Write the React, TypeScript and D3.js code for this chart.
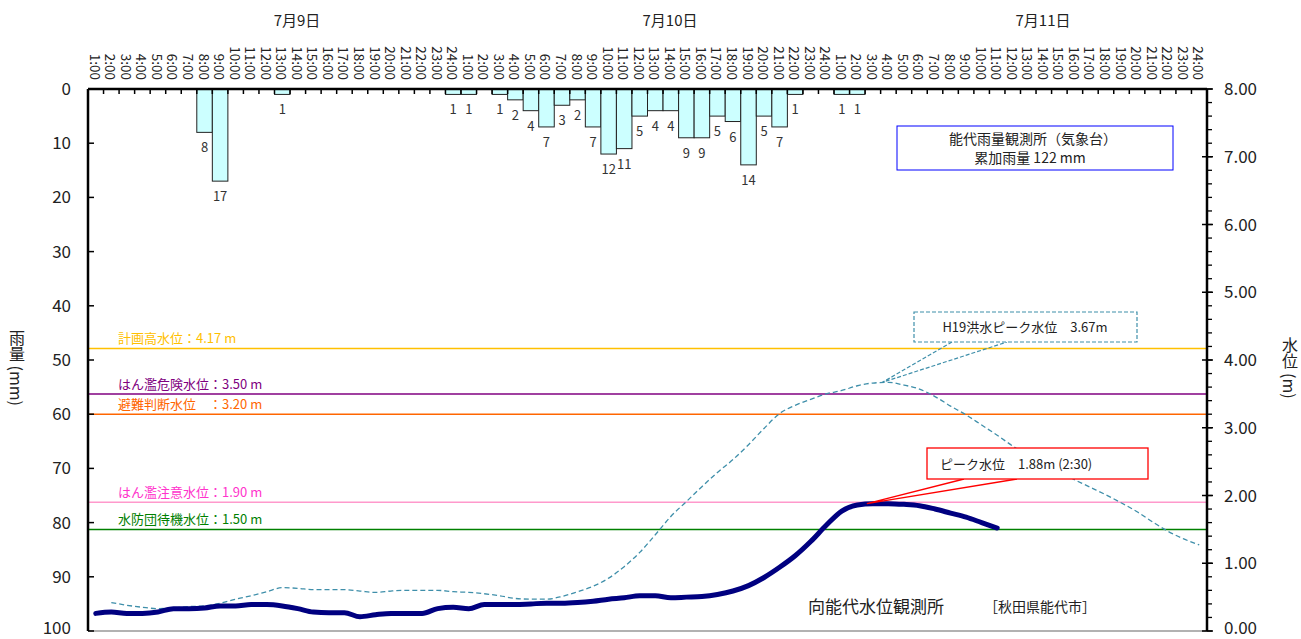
import * as d3 from 'd3';
import React from 'react';

// 時刻ラベル (1:00 〜 24:00 を3日分)
const hourLabels = d3.range(72).map(i => `${(i % 24) + 1}:00`);
const dayLabels = ['7月9日', '7月10日', '7月11日'];

// 時間雨量 (mm) 7/9, 7/10, 7/11
const rain0709 = [0, 0, 0, 0, 0, 0, 0, 8, 17, 0, 0, 0, 1, 0, 0, 0, 0, 0, 0, 0, 0, 0, 0, 1];
const rain0710 = [1, 0, 1, 2, 4, 7, 3, 2, 7, 12, 11, 5, 4, 4, 9, 9, 5, 6, 14, 5, 7, 1, 0, 0];
const rain0711 = [1, 1, 0, 0, 0, 0, 0, 0, 0, 0, 0, 0, 0, 0, 0, 0, 0, 0, 0, 0, 0, 0, 0, 0];
const rain = [...rain0709, ...rain0710, ...rain0711];

// 今回の水位 (m) 7/9 1:00 〜 7/11 11:00
const level = [
  0.26, 0.28, 0.26, 0.26, 0.28, 0.33, 0.33, 0.34, 0.37, 0.37, 0.39, 0.39,
  0.37, 0.33, 0.28, 0.27, 0.27, 0.21, 0.24, 0.26, 0.26, 0.26, 0.33, 0.35,
  0.33, 0.39, 0.39, 0.39, 0.40, 0.41, 0.41, 0.42, 0.44, 0.47, 0.49, 0.52,
  0.52, 0.49, 0.50, 0.51, 0.54, 0.59, 0.67, 0.79, 0.94, 1.11, 1.32, 1.56,
  1.77, 1.86, 1.88, 1.88, 1.87, 1.85, 1.80, 1.74, 1.68, 1.60, 1.52,
];

// H19洪水の水位 (m) 2時間目から
const h19Start = 2;
const h19Level = [
  0.42, 0.38, 0.35, 0.33, 0.34, 0.36, 0.37, 0.41, 0.47, 0.52, 0.58, 0.64,
  0.63, 0.61, 0.61, 0.61, 0.59, 0.57, 0.59, 0.60, 0.60, 0.60, 0.58, 0.57,
  0.55, 0.52, 0.48, 0.47, 0.47, 0.51, 0.58, 0.66, 0.78, 0.95, 1.16, 1.42,
  1.69, 1.91, 2.13, 2.34, 2.53, 2.75, 2.99, 3.21, 3.33, 3.42, 3.50, 3.55,
  3.62, 3.66, 3.67, 3.63, 3.57, 3.46, 3.32, 3.19, 3.04, 2.89, 2.73, 2.58,
  2.45, 2.34, 2.23, 2.12, 2.01, 1.89, 1.76, 1.61, 1.47, 1.36, 1.27,
];

// 基準水位
const refNames = ['計画高水位：4.17 m', 'はん濫危険水位：3.50 m', '避難判断水位　：3.20 m', 'はん濫注意水位：1.90 m', '水防団待機水位：1.50 m'];
const refValues = [4.17, 3.5, 3.2, 1.9, 1.5];
const refLineColors = ['#FFC000', '#800080', '#FF6600', '#FF99CC', '#008000'];
const refTextColors = ['#FFC000', '#800080', '#FF6600', '#FF33CC', '#008000'];

const rainTicks = d3.range(0, 101, 10);
const levelTicks = d3.range(0, 8.01, 1);
const levelMinor = d3.range(0, 8.01, 0.2);

const font = '"Noto Sans CJK JP", "Noto Sans", sans-serif';

const App: React.FC = () => {
  const W = 1301, H = 639;
  const left = 88, right = 1207, top = 89, bottom = 631;

  const x = d3.scaleLinear().domain([0, 72]).range([left, right]);
  const yRain = d3.scaleLinear().domain([0, 100]).range([top, bottom]);
  const yLevel = d3.scaleLinear().domain([0, 8]).range([bottom, top]);

  const line = d3.line<number>()
    .x((_, i) => x(i + 0.5))
    .y(d => yLevel(d))
    .curve(d3.curveMonotoneX);
  const h19Line = d3.line<number>()
    .x((_, i) => x(i + h19Start - 0.5))
    .y(d => yLevel(d))
    .curve(d3.curveMonotoneX);

  // ピーク位置
  const h19Peak = d3.maxIndex(h19Level);
  const h19Px = x(h19Peak + h19Start - 0.5) - 6;
  const h19Py = yLevel(h19Level[h19Peak]);
  const obsPeak = d3.maxIndex(level);
  const obsPx = x(obsPeak + 0.5) - 6;
  const obsPy = yLevel(level[obsPeak]);

  // 目盛ラベルのベースライン (下端は画面内に収める)
  const tickBase = (y: number) => Math.min(y + 6, 634);

  return (
    <div style={{ position: 'absolute', left: 0, top: 0 }}>
      <svg width={W} height={H} style={{ display: 'block', fontFamily: font }}>
        <rect width={W} height={H} fill="#fff" />

        {/* 日付 */}
        {dayLabels.map((d, i) => (
          <text key={d} x={x(i * 24 + 13.45)} y={26} textAnchor="middle" fontSize={15} fill="#222">{d}</text>
        ))}

        {/* 時刻 */}
        {hourLabels.map((t, i) => (
          <text key={i} transform={`translate(${x(i + 0.5)},80) rotate(90)`} textAnchor="end"
            dominantBaseline="central" fontSize={13.5} fill="#222">{t}</text>
        ))}

        {/* 基準水位線 */}
        {refValues.map((v, i) => (
          <g key={refNames[i]}>
            <line x1={left} x2={right} y1={yLevel(v)} y2={yLevel(v)} stroke={refLineColors[i]} strokeWidth={1.5} />
            <text x={118} y={yLevel(v) - 5} fontSize={13} fill={refTextColors[i]}>{refNames[i]}</text>
          </g>
        ))}

        {/* 雨量 */}
        {rain.map((v, i) => v > 0 && (
          <g key={i}>
            <rect x={x(i)} y={yRain(0)} width={x(i + 1) - x(i)} height={yRain(v) - yRain(0)}
              fill="#CCFFFF" stroke="#222" strokeWidth={1} />
            <text x={x(i + 0.5)} y={yRain(v) + 20} textAnchor="middle" fontSize={13} fill="#333">{v}</text>
          </g>
        ))}

        {/* H19 */}
        <path d={h19Line(h19Level) ?? ''} fill="none" stroke="#3F8FAA" strokeWidth={1.3} strokeDasharray="5,3" />
        {/* 今回 */}
        <path d={line(level) ?? ''} fill="none" stroke="#000080" strokeWidth={5} strokeLinejoin="round" strokeLinecap="round" />

        {/* 軸 */}
        <line x1={left} x2={right} y1={bottom} y2={bottom} stroke="#999" strokeWidth={1.5} />
        <line x1={left} x2={right} y1={top} y2={top} stroke="#000" strokeWidth={2.5} />
        <line x1={left} x2={left} y1={top} y2={bottom} stroke="#000" strokeWidth={2.5} />
        <line x1={right} x2={right} y1={top} y2={bottom} stroke="#000" strokeWidth={2.5} />
        {d3.range(73).map(i => (
          <line key={i} x1={x(i)} x2={x(i)} y1={top} y2={top + 5} stroke="#000" strokeWidth={1.5} />
        ))}
        {rainTicks.map(t => (
          <g key={t}>
            <line x1={left} x2={left + 6} y1={yRain(t)} y2={yRain(t)} stroke="#000" strokeWidth={1.5} />
            <text x={71} y={tickBase(yRain(t))} textAnchor="end" fontSize={17} fill="#222">{t}</text>
          </g>
        ))}
        {levelMinor.map((t, i) => (
          <line key={i} x1={right} x2={right + 5} y1={yLevel(t)} y2={yLevel(t)} stroke="#000" strokeWidth={1.3} />
        ))}
        {levelTicks.map(t => (
          <g key={t}>
            <line x1={right - 5} x2={right + 6} y1={yLevel(t)} y2={yLevel(t)} stroke="#000" strokeWidth={1.5} />
            <text x={1224} y={tickBase(yLevel(t))} fontSize={17} fill="#222">{t.toFixed(2)}</text>
          </g>
        ))}

        {/* 軸タイトル */}
        <text x={17} y={368} textAnchor="middle" fontSize={16} fill="#222" style={{ writingMode: 'vertical-rl' }}>雨量 (mm)</text>
        <text x={1290} y={368} textAnchor="middle" fontSize={16} fill="#222" style={{ writingMode: 'vertical-rl' }}>水位 (m)</text>

        {/* 雨量観測所 */}
        <rect x={897} y={126} width={276} height={44} fill="#fff" stroke="#0000FF" strokeWidth={1} />
        <text x={1033} y={144} textAnchor="middle" fontSize={14} fill="#222">能代雨量観測所（気象台）</text>
        <text x={1030} y={163} textAnchor="middle" fontSize={14} fill="#222">累加雨量 122 mm</text>

        {/* H19 吹き出し */}
        <polyline points={`952,342 ${h19Px},${h19Py} 1007,342`} fill="none" stroke="#3F8FAA" strokeWidth={1.2} strokeDasharray="4,2" />
        <rect x={914} y={312} width={223} height={30} fill="#fff" stroke="#3F8FAA" strokeWidth={1.2} strokeDasharray="4,2" />
        <text x={1025} y={332} textAnchor="middle" fontSize={13} fill="#222">H19洪水ピーク水位　3.67m</text>

        {/* ピーク吹き出し */}
        <polyline points={`964,479 ${obsPx},${obsPy} 1017,479`} fill="none" stroke="#FF0000" strokeWidth={1.3} />
        <rect x={927} y={448} width={221} height={31} fill="#fff" stroke="#FF0000" strokeWidth={1.3} />
        <text x={940} y={469} fontSize={13} fill="#222">ピーク水位　1.88m (2:30)</text>

        {/* 観測所名 */}
        <text x={808} y={613} fontSize={17} fill="#222">向能代水位観測所</text>
        <text x={984} y={612} fontSize={14} fill="#222">［秋田県能代市］</text>
      </svg>
    </div>
  );
};

export default App;
